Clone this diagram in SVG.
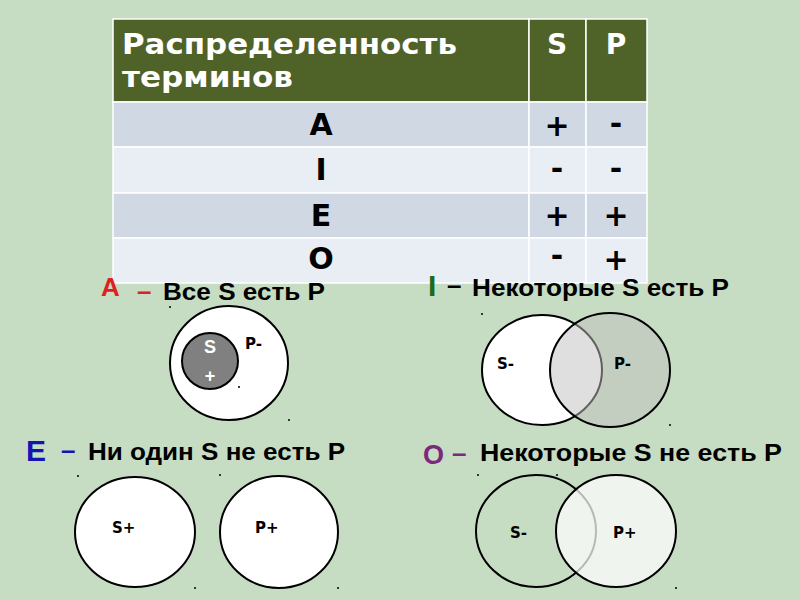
<svg xmlns="http://www.w3.org/2000/svg" width="800" height="600" viewBox="0 0 800 600">
<style>
text{font-family:"Liberation Sans",Arial,sans-serif;font-weight:bold}
.hd{fill:#ffffff;font-size:28px;font-family:"DejaVu Sans",Verdana,sans-serif}
.cell{stroke:#ffffff;stroke-width:1.5}
.row{font-size:30px;fill:#000;text-anchor:middle;font-family:"DejaVu Sans",Verdana,sans-serif}
.cap{font-size:23px;fill:#000}
.lbl{font-size:15px;fill:#000;font-family:"DejaVu Sans",Verdana,sans-serif}
.circ{stroke:#000;stroke-width:2}
.dot{fill:#000}
</style>
<rect x="0" y="0" width="800" height="600" fill="#c6dcc3"/>
<g id="table">
<rect class="cell" x="113" y="19" width="416" height="83" fill="#4f6228"/>
<rect class="cell" x="529" y="19" width="57" height="83" fill="#4f6228"/>
<rect class="cell" x="586" y="19" width="61" height="83" fill="#4f6228"/>
<rect class="cell" x="113" y="102" width="416" height="45" fill="#d0d8e4"/>
<rect class="cell" x="529" y="102" width="57" height="45" fill="#d0d8e4"/>
<rect class="cell" x="586" y="102" width="61" height="45" fill="#d0d8e4"/>
<rect class="cell" x="113" y="147" width="416" height="46" fill="#e9edf4"/>
<rect class="cell" x="529" y="147" width="57" height="46" fill="#e9edf4"/>
<rect class="cell" x="586" y="147" width="61" height="46" fill="#e9edf4"/>
<rect class="cell" x="113" y="193" width="416" height="45" fill="#d0d8e4"/>
<rect class="cell" x="529" y="193" width="57" height="45" fill="#d0d8e4"/>
<rect class="cell" x="586" y="193" width="61" height="45" fill="#d0d8e4"/>
<rect class="cell" x="113" y="238" width="416" height="45" fill="#e9edf4"/>
<rect class="cell" x="529" y="238" width="57" height="45" fill="#e9edf4"/>
<rect class="cell" x="586" y="238" width="61" height="45" fill="#e9edf4"/>
<text class="hd" x="122" y="54" textLength="335" lengthAdjust="spacingAndGlyphs">Распределенность</text>
<text class="hd" x="122" y="87" textLength="171" lengthAdjust="spacingAndGlyphs">терминов</text>
<text class="hd" x="557" y="54" text-anchor="middle">S</text>
<text class="hd" x="616" y="54" text-anchor="middle">P</text>
<text class="row" x="321" y="135">A</text>
<text class="row" x="557" y="136">+</text>
<text class="row" x="616" y="134">-</text>
<text class="row" x="321" y="180">I</text>
<text class="row" x="557" y="179">-</text>
<text class="row" x="616" y="179">-</text>
<text class="row" x="321" y="226">E</text>
<text class="row" x="557" y="226">+</text>
<text class="row" x="616" y="226">+</text>
<text class="row" x="321" y="269">O</text>
<text class="row" x="557" y="266">-</text>
<text class="row" x="616" y="270">+</text>
</g>
<g id="A">
<text x="101" y="296" font-size="26" fill="#e02020">A</text>
<text x="137" y="300" font-size="26" fill="#e02020">–</text>
<text class="cap" x="163" y="300" textLength="162" lengthAdjust="spacingAndGlyphs">Все S есть P</text>
<ellipse class="circ" cx="229" cy="363" rx="59" ry="57" fill="#ffffff"/>
<circle class="circ" cx="210" cy="361" r="28" fill="#808080"/>
<text x="210" y="353" font-size="18" fill="#ffffff" text-anchor="middle" font-family="DejaVu Sans,sans-serif">S</text>
<text x="210" y="382" font-size="18" fill="#ffffff" text-anchor="middle" font-family="DejaVu Sans,sans-serif">+</text>
<text class="lbl" x="245" y="349">P-</text>
<circle class="dot" cx="170" cy="307" r="1"/>
<circle class="dot" cx="239" cy="387" r="1"/>
<circle class="dot" cx="289" cy="420" r="1"/>
</g>
<g id="I">
<text x="428" y="296" font-size="30" fill="#1a6b1a">I</text>
<text x="447" y="294" font-size="26" fill="#000">–</text>
<text class="cap" x="472" y="296" textLength="257" lengthAdjust="spacingAndGlyphs">Некоторые S есть P</text>
<ellipse class="circ" cx="542" cy="370" rx="60" ry="55" fill="#ffffff"/>
<ellipse class="circ" cx="610" cy="370" rx="60" ry="57" fill="#c0c0c0" fill-opacity="0.5"/>
<text class="lbl" x="497" y="369">S-</text>
<text class="lbl" x="614" y="369">P-</text>
<circle class="dot" cx="482" cy="314" r="1"/>
<circle class="dot" cx="670" cy="425" r="1"/>
</g>
<g id="E">
<text x="26" y="461" font-size="30" fill="#1414b4">E</text>
<text x="61" y="459" font-size="26" fill="#1414b4">–</text>
<text class="cap" x="88" y="460" textLength="257" lengthAdjust="spacingAndGlyphs">Ни один S не есть P</text>
<ellipse class="circ" cx="135" cy="532" rx="60" ry="55" fill="#ffffff"/>
<ellipse class="circ" cx="279" cy="532" rx="59" ry="56" fill="#ffffff"/>
<text class="lbl" x="112" y="533">S+</text>
<text class="lbl" x="255" y="533">P+</text>
<circle class="dot" cx="78" cy="476" r="1"/>
<circle class="dot" cx="220" cy="475" r="1"/>
<circle class="dot" cx="195" cy="588" r="1"/>
<circle class="dot" cx="338" cy="588" r="1"/>
</g>
<g id="O">
<text x="423" y="464" font-size="27" fill="#7b2a7b">O</text>
<text x="452" y="462" font-size="26" fill="#7b2a7b">–</text>
<text class="cap" x="480" y="461" textLength="302" lengthAdjust="spacingAndGlyphs">Некоторые S не есть P</text>
<ellipse class="circ" cx="536" cy="531" rx="60" ry="56" fill="none"/>
<ellipse class="circ" cx="616" cy="531" rx="60" ry="56" fill="#ffffff" fill-opacity="0.72"/>
<text class="lbl" x="510" y="538">S-</text>
<text class="lbl" x="613" y="538">P+</text>
<circle class="dot" cx="478" cy="475" r="1"/>
<circle class="dot" cx="557" cy="475" r="1"/>
<circle class="dot" cx="676" cy="588" r="1"/>
</g>
</svg>
